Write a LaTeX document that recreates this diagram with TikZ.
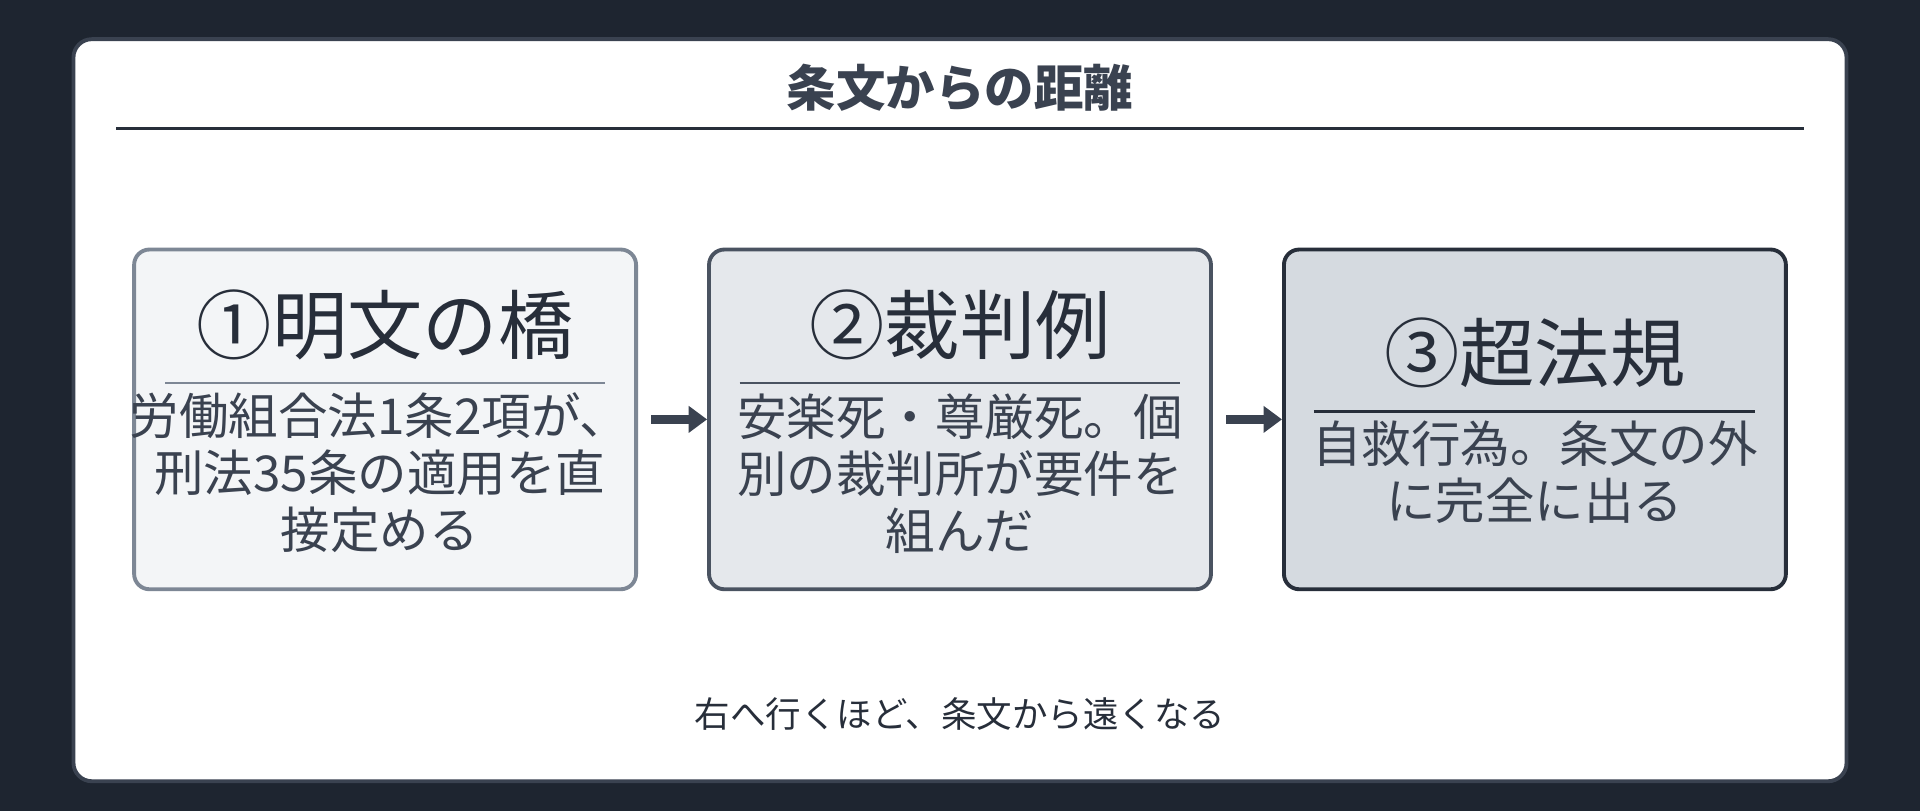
\documentclass[tikz,border=0pt]{standalone}
\usepackage{fontspec}
\setmainfont{Noto Sans CJK JP}
\usetikzlibrary{arrows.meta}
\definecolor{bgdark}{HTML}{1E2530}
\definecolor{ink}{HTML}{3A4250}
\definecolor{fillA}{HTML}{F3F5F7}
\definecolor{fillB}{HTML}{E5E8EC}
\definecolor{fillC}{HTML}{D5DAE0}
\definecolor{edgeA}{HTML}{7D8795}
\definecolor{edgeB}{HTML}{4A5361}
\definecolor{edgeC}{HTML}{272E3A}
\tikzset{
  stage/.style={draw, line width=1.8pt, rounded corners=0.25cm, minimum width=8.2cm, minimum height=5.55cm, inner sep=0pt},
  headtxt/.style={text=edgeC, font=\fontsize{35}{40}\selectfont},
  bodytxt/.style={text=ink, align=center, font=\fontsize{23}{26.5}\selectfont},
  nextstep/.style={-{Triangle[length=0.3cm,width=0.42cm]}, line width=4pt, draw=ink}
}
\begin{document}
\begin{tikzpicture}[x=0.02cm, y=-0.02cm]

\fill [bgdark] (0,0) rectangle (1568,662);
\draw [fill=white, draw=ink, line width=1.8pt, rounded corners=0.3cm] (60,32) rectangle (1508,638);

\node (title) [text=ink, font=\fontsize{23}{26}\selectfont\bfseries] at (784,72) {条文からの距離};
\draw [edgeC, line width=1pt] (95,105) -- (1473,105);

% three stages
\node (bridge) [stage, fill=fillA, draw=edgeA] at (314.5,342.5) {};
\node (cases) [stage, fill=fillB, draw=edgeB] at (784,342.5) {};
\node (beyond) [stage, fill=fillC, draw=edgeC] at (1253.5,342.5) {};

\node (bridgehead) [headtxt] at (314.5,265) {①明文の橋};
\draw [edgeA, line width=1pt] (135,313) -- (494,313);
\node (bridgebody) [bodytxt] at (310,386) {労働組合法1条2項が、\\刑法35条の適用を直\\接定める};

\node (caseshead) [headtxt] at (784,265) {②裁判例};
\draw [edgeB, line width=1pt] (604,313) -- (964,313);
\node (casesbody) [bodytxt] at (784,387) {安楽死・尊厳死。個\\別の裁判所が要件を\\組んだ};

\node (beyondhead) [headtxt] at (1253.5,288) {③超法規};
\draw [edgeC, line width=1pt] (1073,336) -- (1433,336);
\node (beyondbody) [bodytxt] at (1253.5,386) {自救行為。条文の外\\に完全に出る};

\draw [nextstep] ([xshift=0.22cm]bridge.east) -- (cases.west);
\draw [nextstep] ([xshift=0.22cm]cases.east) -- (beyond.west);

\node (footer) [text=edgeC, font=\fontsize{16.5}{20}\selectfont] at (784,583) {右へ行くほど、条文から遠くなる};

\end{tikzpicture}
\end{document}
